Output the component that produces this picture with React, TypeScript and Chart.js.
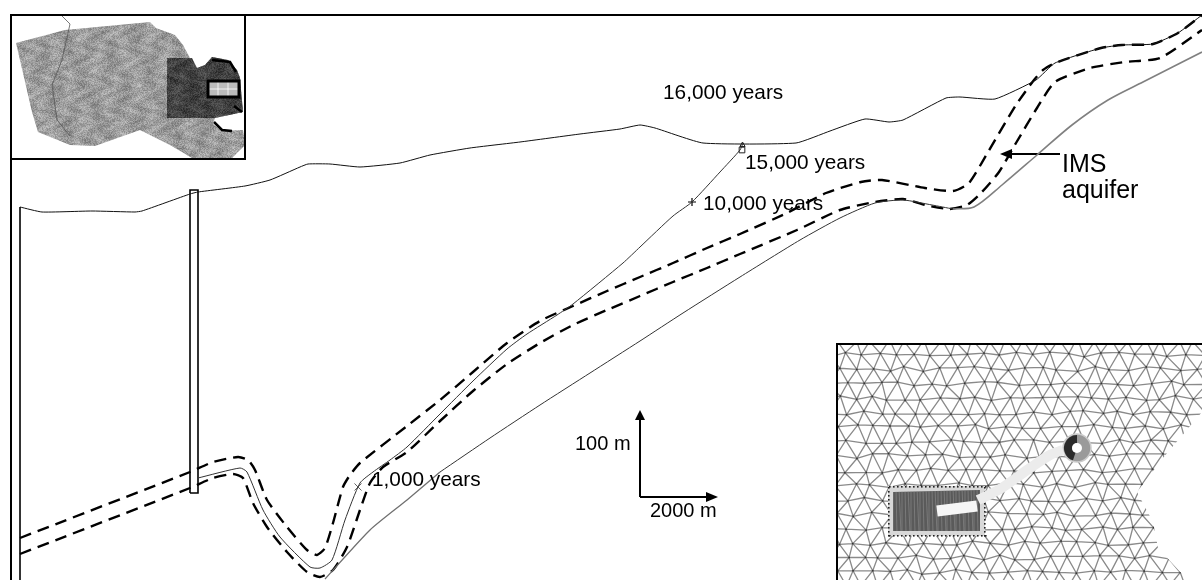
import React, { useEffect, useRef } from "react";
import { Chart, registerables } from "chart.js";

Chart.register(...registerables);

type P = [number, number];

// Traces, in the figure's own plan units
const groundSurface: P[] = [[20,207],[42,212],[92,211],[135,212],[142,211],[190,194],[198,192],[245,186],[270,180],[300,167],[308,164],[330,164],[360,167],[400,163],[430,155],[470,148],[520,142],[580,134],[620,129],[640,125],[655,128],[703,143],[796,143],[830,131],[865,119],[889,122],[903,120],[946,98],[960,97],[995,99],[1036,80],[1055,63],[1101,48],[1122,45],[1153,44],[1178,33],[1202,15]];
const aquiferTop: P[] = [[20,538],[190,472],[213,462],[238,457],[248,460],[255,470],[267,500],[287,527],[307,550],[317,555],[325,548],[333,523],[343,487],[350,475],[360,463],[407,426],[440,400],[473,372],[507,343],[540,321],[573,306],[607,291],[640,277],[673,263],[707,248],[740,234],[787,213],[826,193],[861,182],[882,180],[925,188],[953,191],[969,183],[988,152],[1016,105],[1034,80],[1043,70],[1055,63],[1101,48],[1122,45],[1153,44],[1178,33],[1202,15]];
const aquiferBottom: P[] = [[20,554],[190,488],[213,478],[233,474],[243,478],[253,503],[267,527],[287,552],[307,572],[320,577],[333,570],[347,547],[360,510],[370,483],[383,467],[407,452],[440,421],[473,391],[507,364],[540,343],[573,325],[607,310],[640,296],[673,282],[707,268],[740,254],[797,230],[840,210],[875,202],[903,199],[925,205],[949,209],[967,205],[981,193],[999,172],[1016,143],[1037,108],[1055,82],[1090,68],[1125,62],[1160,58],[1202,30]];
const lowerBoundGrey: P[] = [[325,579],[370,530],[407,500],[440,472]];
const lowerBoundDark: P[] = [[440,472],[490,438],[540,405],[590,373],[640,341],[683,313],[740,277],[800,240],[840,218],[875,203],[903,200],[932,205],[953,209]];
const lowerBoundEast: P[] = [[953,209],[974,207],[1002,185],[1037,155],[1072,125],[1108,100],[1143,82],[1202,52]];
const flowPath: P[] = [[198,478],[240,468],[247,472],[263,510],[280,537],[310,567],[320,568],[332,560],[345,520],[360,483],[373,472],[390,460],[407,447],[440,414],[473,381],[507,349],[527,334],[557,315],[573,304],[623,263],[640,247],[673,216],[692,202],[720,172],[740,150],[743,143]];

const frameLine: P[] = [[11,580],[11,15],[1202,15]];
const locatorBox: P[] = [[11,159],[245,159],[245,15]];
const wellA: P[] = [[20,580],[20,207]];
const wellB: P[] = [[190,493],[190,190],[198,190],[198,493],[190,493]];
const scaleUp: P[] = [[640,497],[640,418]];
const scaleRight: P[] = [[640,497],[706,497]];
const pointerLine: P[] = [[1060,154],[1008,154]];

const marker1000: P[] = [[358,487]];
const marker10000: P[] = [[692,202]];
const marker15000: P[] = [[742,150]];
const marker15000Roof: P[] = [[742.5,145]];

const rampCentre: P[] = [[978,500],[1000,489],[1030,468],[1050,455],[1063,450]];
const tunnelCentre: P[] = [[937,511],[977,506]];
const shaftPoint: P[] = [[1077,448]];

const tickLabels = ["1,000 years", "10,000 years", "15,000 years", "16,000 years", "100 m", "2000 m", "IMS", "aquifer"];

const mapOutline: P[] = [[16,43],[65,30],[150,22],[156,28],[175,35],[183,45],[190,58],[197,68],[205,65],[212,57],[228,60],[237,70],[240,78],[243,112],[215,118],[213,124],[222,131],[243,130],[245,145],[232,158],[192,158],[170,145],[140,130],[95,146],[70,145],[38,132],[32,112]];
const mapDark: P[] = [[167,58],[192,58],[197,68],[205,65],[212,57],[228,60],[237,70],[240,78],[243,112],[215,118],[167,118]];
const meshOutline: P[] = [[838,345],[1202,345],[1202,412],[1163,458],[1137,492],[1153,522],[1158,548],[1183,575],[1190,580],[838,580]];
const denseBlock: P[] = [[893,492],[980,490],[980,531],[893,531]];

const labelPlaces: { at: P; font: string }[] = [
  { at: [372, 480], font: "20.8px" }, { at: [703, 204], font: "20.8px" },
  { at: [745, 163], font: "20.8px" }, { at: [663, 93], font: "20.8px" },
  { at: [575, 444], font: "20px" }, { at: [650, 511], font: "20px" },
  { at: [1062, 165], font: "25px" }, { at: [1062, 191], font: "25px" },
];

const hash = (a: number, b: number) => {
  const v = Math.sin(a * 127.1 + b * 311.7) * 43758.5453;
  return v - Math.floor(v);
};

const backdrop = {
  id: "backdrop",
  beforeDatasetsDraw(chart: any) {
    const { ctx, scales } = chart;
    const X = (v: number) => scales.x.getPixelForValue(v);
    const Y = (v: number) => scales.y.getPixelForValue(v);
    const trace = (pts: P[]) => {
      ctx.beginPath();
      pts.forEach(([a, b], i) => (i ? ctx.lineTo(X(a), Y(b)) : ctx.moveTo(X(a), Y(b))));
      ctx.closePath();
    };
    const speckle = (pts: P[], base: number, depth: number) => {
      ctx.save();
      trace(pts);
      ctx.clip();
      for (let i = 12; i < 245; i += 1) for (let j = 16; j < 159; j += 1) {
        const g = base + depth * 0.6 * Math.sin(i * 0.23 + Math.sin(j * 0.2) * 2) * Math.sin(j * 0.27 + i * 0.05) + (hash(i, j) - 0.5) * depth * 1.6;
        const c = Math.max(0, Math.min(255, Math.round(g)));
        ctx.fillStyle = `rgb(${c},${c},${c})`;
        ctx.fillRect(X(i), Y(j), 1, 1);
      }
      ctx.restore();
    };
    speckle(mapOutline, 155, 30);
    speckle(mapDark, 66, 24);
    ctx.save();
    ctx.strokeStyle = "#555";
    ctx.lineWidth = 0.8;
    ctx.beginPath();
    ctx.moveTo(X(62), Y(16)); ctx.lineTo(X(70), Y(24)); ctx.lineTo(X(62), Y(60));
    ctx.lineTo(X(52), Y(85)); ctx.lineTo(X(57), Y(120)); ctx.lineTo(X(70), Y(136));
    ctx.stroke();
    ctx.strokeStyle = "#000";
    ctx.lineWidth = 2.5;
    ctx.beginPath();
    ctx.moveTo(X(214), Y(122)); ctx.lineTo(X(222), Y(130)); ctx.lineTo(X(232), Y(131));
    ctx.moveTo(X(212), Y(60)); ctx.lineTo(X(230), Y(62)); ctx.lineTo(X(236), Y(72));
    ctx.moveTo(X(234), Y(106)); ctx.lineTo(X(242), Y(112));
    ctx.stroke();
    ctx.fillStyle = "#bbb";
    ctx.fillRect(X(208), Y(81), 31, 16);
    ctx.strokeStyle = "#fff";
    ctx.lineWidth = 0.8;
    ctx.beginPath();
    ctx.moveTo(X(208), Y(89)); ctx.lineTo(X(239), Y(89));
    ctx.moveTo(X(218), Y(81)); ctx.lineTo(X(218), Y(97));
    ctx.moveTo(X(228), Y(81)); ctx.lineTo(X(228), Y(97));
    ctx.stroke();
    ctx.strokeStyle = "#000";
    ctx.lineWidth = 3;
    ctx.strokeRect(X(208), Y(81), 31, 16);
    ctx.restore();

    // finite-element mesh of the inset
    ctx.save();
    trace(meshOutline);
    ctx.clip();
    const dx = 17, dy = 14.5;
    const node = (r: number, c: number): P => [
      838 + c * dx + (r % 2 ? dx / 2 : 0) + (hash(r, c) - 0.5) * 6,
      340 + r * dy + (hash(c + 40, r) - 0.5) * 5,
    ];
    ctx.strokeStyle = "#8a8a8a";
    ctx.lineWidth = 1.3;
    ctx.beginPath();
    for (let r = 0; r < 18; r++) for (let c = -1; c < 23; c++) {
      const n = node(r, c);
      const o = r % 2 ? 1 : 0;
      [node(r, c + 1), node(r + 1, c + o), node(r + 1, c + o - 1)].forEach((m) => {
        ctx.moveTo(X(n[0]), Y(n[1]));
        ctx.lineTo(X(m[0]), Y(m[1]));
      });
    }
    ctx.stroke();
    ctx.fillStyle = "#333";
    for (let r = 0; r < 18; r++) for (let c = -1; c < 23; c++) {
      const n = node(r, c);
      ctx.fillRect(X(n[0]) - 0.8, Y(n[1]) - 0.8, 1.6, 1.6);
    }
    ctx.restore();

    // inset box edges
    ctx.save();
    ctx.strokeStyle = "#000";
    ctx.lineWidth = 2;
    ctx.beginPath();
    ctx.moveTo(X(837), Y(580)); ctx.lineTo(X(837), Y(344)); ctx.lineTo(X(1202), Y(344));
    ctx.stroke();
    ctx.restore();

    // refined block round the repository
    ctx.save();
    ctx.fillStyle = "#d8d8d8";
    ctx.fillRect(X(888), Y(486), 97, 50);
    ctx.fillStyle = "#222";
    for (let i = 0; i <= 24; i++) {
      ctx.fillRect(X(889 + i * 4), Y(486), 1.6, 1.6);
      ctx.fillRect(X(889 + i * 4), Y(535), 1.6, 1.6);
    }
    for (let j = 0; j <= 12; j++) {
      ctx.fillRect(X(888), Y(487 + j * 4), 1.6, 1.6);
      ctx.fillRect(X(984), Y(487 + j * 4), 1.6, 1.6);
    }
    trace(denseBlock);
    ctx.fillStyle = "#5a5a5a";
    ctx.fill();
    trace(denseBlock);
    ctx.clip();
    ctx.strokeStyle = "#8e8e8e";
    ctx.lineWidth = 0.6;
    ctx.beginPath();
    for (let i = 0; i < 30; i++) {
      ctx.moveTo(X(893 + i * 3), Y(488));
      ctx.lineTo(X(893 + i * 3 + (i % 3)), Y(533));
    }
    ctx.stroke();
    ctx.restore();
  },
  afterDatasetsDraw(chart: any) {
    const { ctx, scales } = chart;
    const X = (v: number) => scales.x.getPixelForValue(v);
    const Y = (v: number) => scales.y.getPixelForValue(v);
    const head = (tip: P, back: P, half: number) => {
      const [tx, ty] = tip; const [bx, by] = back;
      const ux = bx - tx, uy = by - ty;
      const len = Math.hypot(ux, uy) || 1;
      ctx.beginPath();
      ctx.moveTo(X(tx), Y(ty));
      ctx.lineTo(X(bx) - (uy / len) * half, Y(by) + (ux / len) * half);
      ctx.lineTo(X(bx) + (uy / len) * half, Y(by) - (ux / len) * half);
      ctx.closePath();
      ctx.fillStyle = "#000";
      ctx.fill();
    };
    head([640, 410], [640, 420], 5);
    head([718, 497], [706, 497], 5);
    head([1000, 154], [1012, 154], 5);

    // shaft ring cross-section
    const sx = X(shaftPoint[0][0]), sy = Y(shaftPoint[0][1]);
    ctx.save();
    ctx.fillStyle = "#2b2b2b";
    ctx.beginPath();
    ctx.arc(sx, sy, 13, Math.PI * 0.6, Math.PI * 1.5);
    ctx.arc(sx, sy, 5, Math.PI * 1.5, Math.PI * 0.6, true);
    ctx.closePath();
    ctx.fill();
    ctx.fillStyle = "#fff";
    ctx.beginPath();
    ctx.arc(sx, sy, 5, 0, Math.PI * 2);
    ctx.fill();
    ctx.restore();

    ctx.save();
    ctx.fillStyle = "#000";
    ctx.textBaseline = "middle";
    ctx.textAlign = "left";
    tickLabels.forEach((t, i) => {
      const p = labelPlaces[i];
      ctx.font = `${p.font} "Liberation Sans", Arial, sans-serif`;
      ctx.fillText(t, X(p.at[0]), Y(p.at[1]));
    });
    ctx.restore();
  },
};

const asXY = (pts: P[]) => pts.map(([x, y]) => ({ x, y }));
const lineSet = (pts: P[], color: string, width: number, dash: number[] = [], tension = 0) => ({
  type: "line" as const,
  data: asXY(pts),
  borderColor: color,
  borderWidth: width,
  borderDash: dash,
  pointRadius: 0,
  tension,
  fill: false,
});
const markSet = (pts: P[], style: string, radius: number, color: string, bg = "transparent", width = 1) => ({
  type: "scatter" as const,
  data: asXY(pts),
  pointStyle: style,
  pointRadius: radius,
  borderColor: color,
  backgroundColor: bg,
  borderWidth: width,
});

export default function App() {
  const ref = useRef<HTMLCanvasElement>(null);
  useEffect(() => {
    document.body.style.margin = "0";
    const chart = new Chart(ref.current as HTMLCanvasElement, {
      data: {
        datasets: [
          lineSet(frameLine, "#000", 2),
          lineSet(locatorBox, "#000", 2),
          lineSet(wellA, "#000", 1.6),
          lineSet(groundSurface, "#111", 1, [], 0.15),
          lineSet(flowPath, "#333", 1, [], 0.2),
          lineSet(lowerBoundGrey, "#707070", 1.3, [], 0.2),
          lineSet(lowerBoundDark, "#333", 1, [], 0.2),
          lineSet(lowerBoundEast, "#808080", 1.6, [], 0.3),
          lineSet(aquiferTop, "#000", 2.4, [12, 7], 0.2),
          lineSet(aquiferBottom, "#000", 2.4, [12, 7], 0.2),
          lineSet(wellB, "#000", 1.6),
          lineSet(scaleUp, "#000", 2),
          lineSet(scaleRight, "#000", 2),
          lineSet(pointerLine, "#000", 2),
          markSet(marker1000, "crossRot", 5, "#666"),
          markSet(marker10000, "cross", 4, "#000", "transparent", 1.2),
          markSet(marker15000, "rect", 4, "#222"),
          markSet(marker15000Roof, "triangle", 3, "#222"),
          lineSet(rampCentre, "#ececec", 10, [], 0.3),
          lineSet(tunnelCentre, "#f6f6f6", 11),
          markSet(shaftPoint, "circle", 14, "#ccc", "#9a9a9a", 1.5),
        ] as any,
      },
      plugins: [backdrop],
      options: {
        responsive: false,
        animation: false,
        devicePixelRatio: 1,
        layout: { padding: 0, autoPadding: false },
        plugins: { legend: { display: false }, tooltip: { enabled: false } },
        events: [],
        scales: {
          x: { type: "linear", min: 0, max: 1202, display: false },
          y: { type: "linear", min: 0, max: 580, reverse: true, display: false },
        },
      },
    });
    return () => chart.destroy();
  }, []);
  return <canvas ref={ref} width={1202} height={580} style={{ display: "block" }} />;
}
